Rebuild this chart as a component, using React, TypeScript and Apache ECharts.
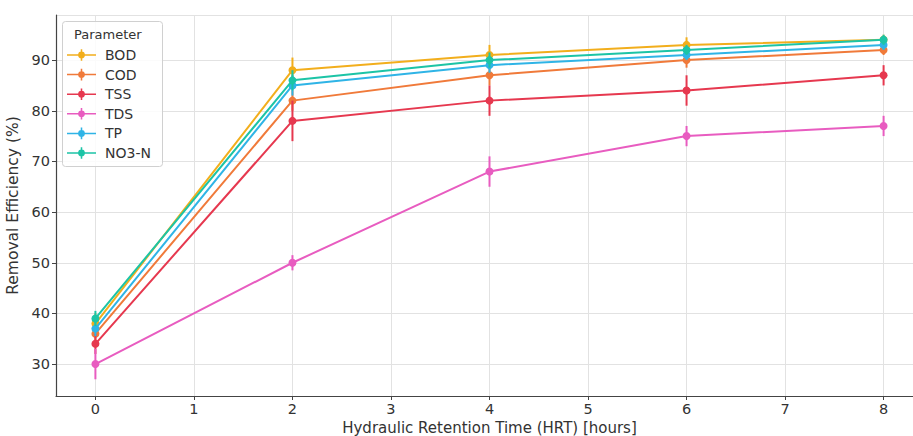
import React, { useEffect, useRef } from "react";
import * as echarts from "echarts";

const hrt = [0, 2, 4, 6, 8];
const names = ["BOD", "COD", "TSS", "TDS", "TP", "NO3-N"];
const colors = ["#f2ae1c", "#f07a3a", "#e6384f", "#e85cc0", "#2fb4e6", "#1cc4a6"];
const bod = [38, 88, 91, 93, 94];
const cod = [36, 82, 87, 90, 92];
const tss = [34, 78, 82, 84, 87];
const tds = [30, 50, 68, 75, 77];
const tp = [37, 85, 89, 91, 93];
const no3n = [39, 86, 90, 92, 94];
const bodErr = [2, 2.5, 2, 1.5, 1];
const codErr = [1.5, 2, 2, 1.5, 1];
const tssErr = [2, 4, 3, 3, 2];
const tdsErr = [3, 1.5, 3, 2, 2];
const tpErr = [1.5, 2, 1.5, 1, 1];
const no3nErr = [1.5, 2, 1.5, 1, 1];

const values = [bod, cod, tss, tds, tp, no3n];
const errors = [bodErr, codErr, tssErr, tdsErr, tpErr, no3nErr];

const FONT = "DejaVu Sans";
const legendIcon =
  "path://M0 5.2H30V6.8H0Z M14.2 0H15.8V12H14.2Z M11.5 6A3.5 3.5 0 1 1 18.5 6A3.5 3.5 0 1 1 11.5 6Z";

export default function App() {
  const ref = useRef<HTMLDivElement>(null);
  useEffect(() => {
    if (!ref.current) return;
    const chart = echarts.init(ref.current, null, { renderer: "svg" });
    const series: any[] = [];
    names.forEach((n, i) => {
      series.push({
        type: "custom",
        name: n,
        renderItem: (params: any, api: any) => {
          const x = api.value(0);
          const lo = api.coord([x, api.value(1)]);
          const hi = api.coord([x, api.value(2)]);
          return {
            type: "line",
            shape: { x1: lo[0], y1: lo[1], x2: hi[0], y2: hi[1] },
            style: { stroke: colors[i], lineWidth: 2 },
          };
        },
        data: hrt.map((x, j) => [x, values[i][j] - errors[i][j], values[i][j] + errors[i][j]]),
        z: 2 + i,
        silent: true,
      });
      series.push({
        type: "line",
        name: n,
        data: hrt.map((x, j) => [x, values[i][j]]),
        symbol: "circle",
        symbolSize: 8,
        lineStyle: { width: 2, color: colors[i] },
        itemStyle: { color: colors[i] },
        z: 2 + i,
      });
    });
    chart.setOption({
      animation: false,
      color: colors,
      grid: { left: 56, top: 15, bottom: 40, right: -10, outerBoundsMode: "none" },
      graphic: [
        {
          type: "rect",
          left: 62,
          top: 21,
          shape: { width: 100, height: 145, r: 3 },
          style: { fill: "rgba(255,255,255,0.85)", stroke: "#d0d0d0", lineWidth: 1 },
          z: 50,
        },
        {
          type: "text",
          left: 74,
          top: 28,
          style: { text: "Parameter", font: `13px ${FONT}`, fill: "#333" },
          z: 51,
        },
      ],
      legend: {
        orient: "vertical",
        left: 67,
        top: 48,
        padding: 0,
        itemWidth: 29,
        itemHeight: 12,
        itemGap: 5.6,
        z: 60,
        textStyle: { fontFamily: FONT, fontSize: 14, color: "#333", padding: [0, 0, 0, 4] },
        data: names.map((n) => ({ name: n, icon: legendIcon })),
      },
      xAxis: {
        type: "value",
        min: -0.4,
        max: 8.4,
        minInterval: 1,
        maxInterval: 1,
        name: "Hydraulic Retention Time (HRT) [hours]",
        nameLocation: "middle",
        nameGap: 21,
        nameTextStyle: { fontFamily: FONT, fontSize: 15, color: "#333" },
        axisLine: { show: true, onZero: false, lineStyle: { color: "#444", width: 1.2 } },
        axisTick: { show: true, length: 4, lineStyle: { color: "#444" } },
        axisLabel: {
          showMinLabel: false,
          showMaxLabel: false,
          fontFamily: FONT,
          fontSize: 14.5,
          color: "#333",
          margin: 5,
          formatter: (v: number) => (Number.isInteger(v) ? String(v) : ""),
        },
        splitLine: { show: true, lineStyle: { color: "#e2e2e2", width: 1 } },
      },
      yAxis: {
        type: "value",
        min: 23.7,
        max: 98.9,
        minInterval: 10,
        maxInterval: 10,
        name: "Removal Efficiency (%)",
        nameLocation: "middle",
        nameGap: 30,
        nameTextStyle: { fontFamily: FONT, fontSize: 15.5, color: "#333" },
        axisLine: { show: true, onZero: false, lineStyle: { color: "#444", width: 1.2 } },
        axisTick: { show: true, length: 4, lineStyle: { color: "#444" } },
        axisLabel: {
          showMinLabel: false,
          showMaxLabel: false,
          fontFamily: FONT,
          fontSize: 14.5,
          color: "#333",
          margin: 6,
          formatter: (v: number) => (Math.abs(v % 10) < 1e-6 ? String(v) : ""),
        },
        splitLine: { show: true, lineStyle: { color: "#e2e2e2", width: 1 } },
      },
      series,
    });
    return () => chart.dispose();
  }, []);
  return (
    <div
      ref={ref}
      style={{ position: "absolute", left: 0, top: 0, width: 913, height: 436 }}
    />
  );
}
